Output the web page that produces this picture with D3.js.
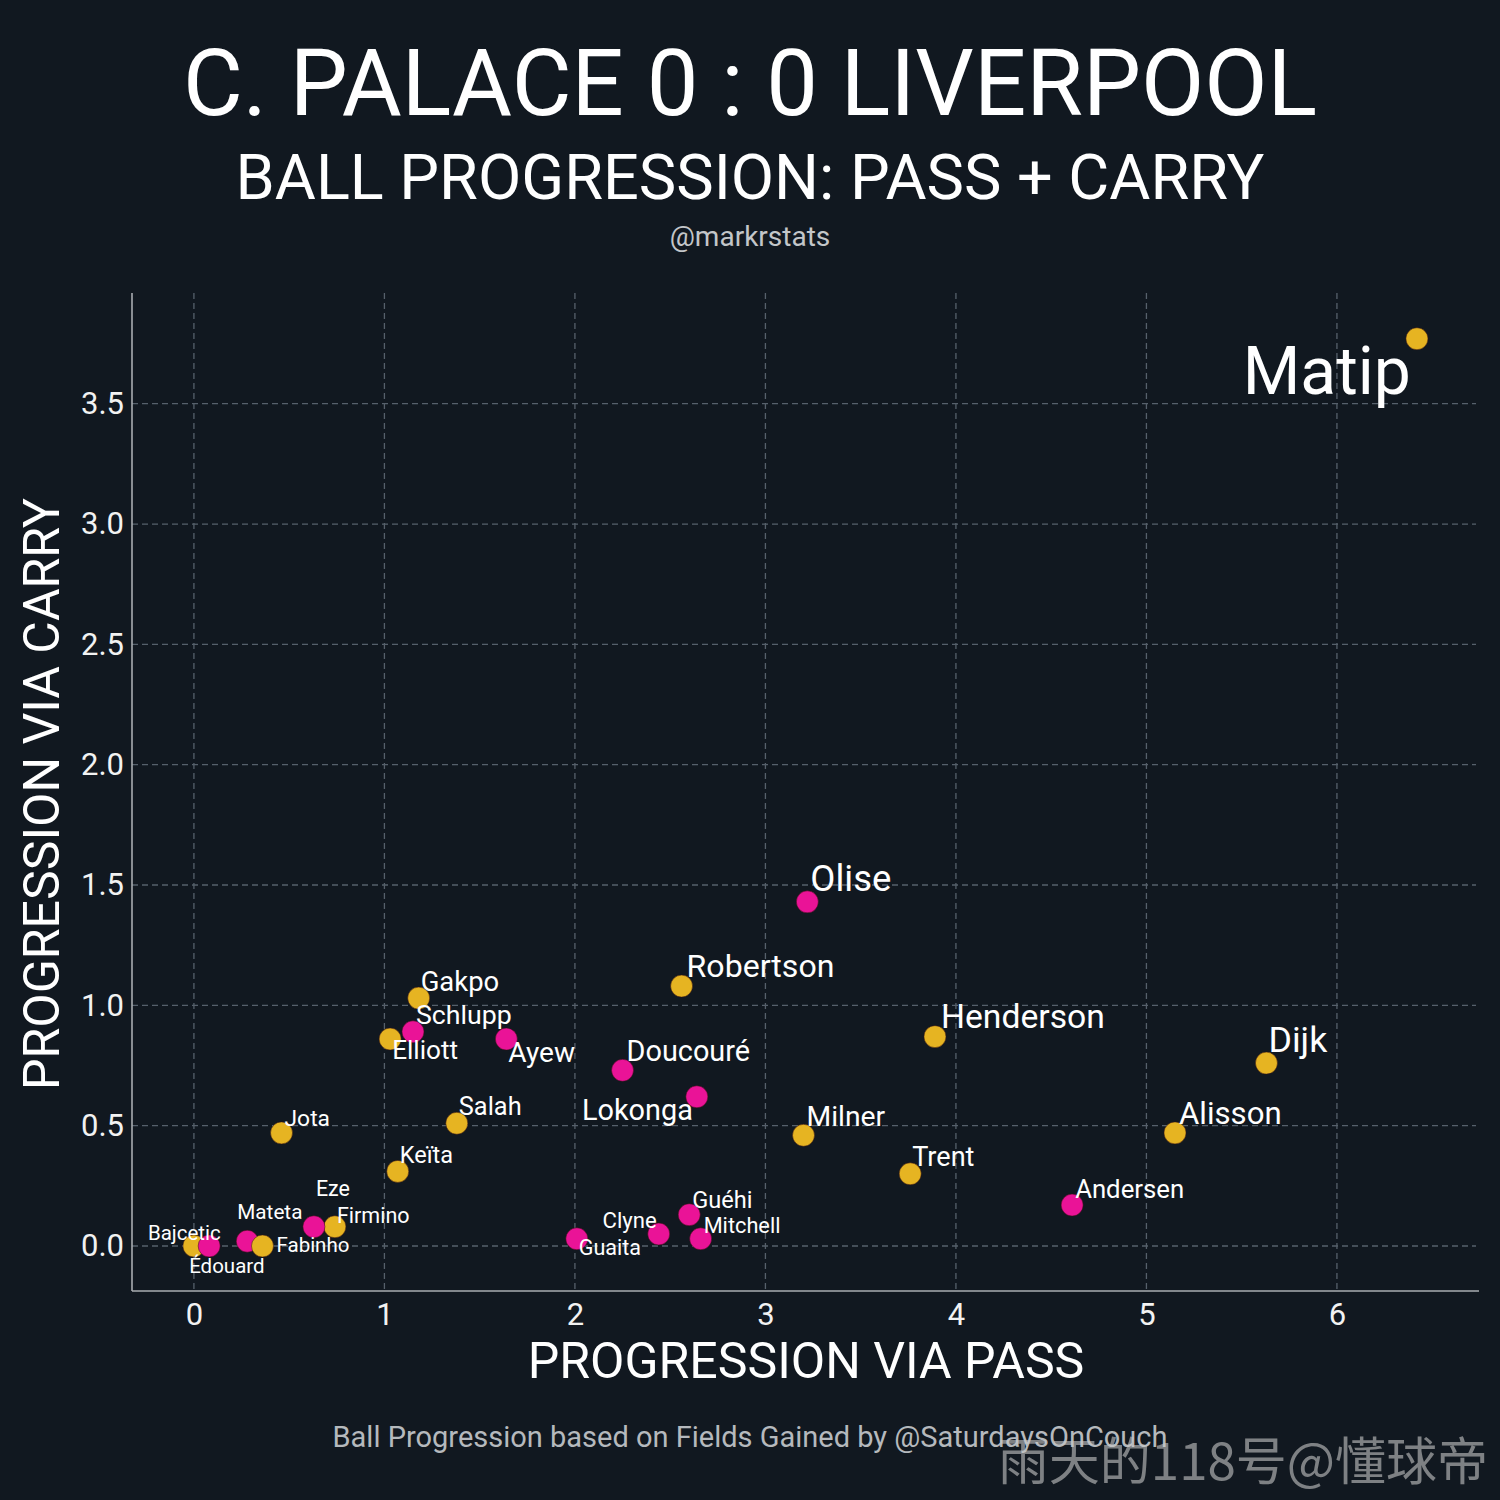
<!DOCTYPE html>
<html>
<head>
<meta charset="utf-8">
<script src="https://cdn.jsdelivr.net/npm/d3@7"></script>
<style>
  html, body { margin: 0; padding: 0; background: #111820; }
  svg { display: block; }
</style>
</head>
<body>
<svg id="chart" width="1500" height="1500"></svg>
<script>
// Players, their team and progression values.
const players = ["Matip", "Olise", "Robertson", "Henderson", "Dijk", "Alisson", "Andersen",
  "Trent", "Milner", "Doucouré", "Lokonga", "Guéhi", "Mitchell", "Clyne", "Guaita", "Ayew",
  "Gakpo", "Schlupp", "Elliott", "Salah", "Keïta", "Jota", "Eze", "Firmino", "Bajcetic",
  "Édouard", "Mateta", "Fabinho"];
const teams = ["LIV", "CRY", "LIV", "LIV", "LIV", "LIV", "CRY",
  "LIV", "LIV", "CRY", "CRY", "CRY", "CRY", "CRY", "CRY", "CRY",
  "LIV", "CRY", "LIV", "LIV", "LIV", "LIV", "CRY", "LIV", "LIV",
  "CRY", "CRY", "LIV"];
const viaPass = [6.42, 3.22, 2.56, 3.89, 5.63, 5.15, 4.61,
  3.76, 3.20, 2.25, 2.64, 2.60, 2.66, 2.44, 2.01, 1.64,
  1.18, 1.15, 1.03, 1.38, 1.07, 0.46, 0.63, 0.74, 0.00,
  0.08, 0.28, 0.36];
const viaCarry = [3.77, 1.43, 1.08, 0.87, 0.76, 0.47, 0.17,
  0.30, 0.46, 0.73, 0.62, 0.13, 0.03, 0.05, 0.03, 0.86,
  1.03, 0.89, 0.86, 0.51, 0.31, 0.47, 0.08, 0.08, 0.00,
  0.00, 0.02, 0.00];

const xTicks = [0, 1, 2, 3, 4, 5, 6];
const yTicks = [0, 0.5, 1.0, 1.5, 2.0, 2.5, 3.0, 3.5];

// Label nudges in pixels (text anchor relative to the dot), like adjustText would leave them.
const labelNudge = {
  "Matip": [-6, 55, "end"], "Olise": [3, -11], "Robertson": [5, -9], "Henderson": [6, -9],
  "Dijk": [2, -11], "Alisson": [4, -9], "Andersen": [3, -7], "Trent": [2, -8],
  "Milner": [3, -9], "Doucouré": [4, -9], "Lokonga": [-4, 23, "end"], "Guéhi": [3, -7],
  "Mitchell": [3, -6], "Clyne": [-2, -6, "end"], "Guaita": [2, 16], "Ayew": [2, 23],
  "Gakpo": [2, -7], "Schlupp": [3, -8], "Elliott": [2, 20], "Salah": [2, -8],
  "Keïta": [2, -8], "Jota": [3, -7], "Eze": [2, -31], "Firmino": [2, -4],
  "Bajcetic": [-46, -6], "Édouard": [-20, 27], "Mateta": [-10, -22], "Fabinho": [14, 6]
};

const teamColor = { LIV: "#e6b422", CRY: "#ea1397" };
const bg = "#111820";
const font = "Roboto, 'Noto Sans', sans-serif";

const svg = d3.select("#chart");
svg.append("rect").attr("width", 1500).attr("height", 1500).attr("fill", bg);

const plotLeft = 132, plotRight = 1476, plotTop = 293, plotBottom = 1291;
const x = d3.scaleLinear().domain([-0.325, 6.73]).range([plotLeft, plotRight]);
const y = d3.scaleLinear().domain([-0.187, 3.96]).range([plotBottom, plotTop]);

// Label size grows with pass x carry.
const sizeScale = d3.scalePow().exponent(0.63).domain([0, 24.2]).range([20.5, 66]);

// Grid.
svg.append("g").selectAll("line").data(xTicks).join("line")
  .attr("x1", d => x(d)).attr("x2", d => x(d))
  .attr("y1", plotTop).attr("y2", plotBottom)
  .attr("stroke", "#56606b").attr("stroke-width", 1.3).attr("stroke-dasharray", "6,4");
svg.append("g").selectAll("line").data(yTicks).join("line")
  .attr("x1", plotLeft).attr("x2", plotRight)
  .attr("y1", d => y(d)).attr("y2", d => y(d))
  .attr("stroke", "#56606b").attr("stroke-width", 1.3).attr("stroke-dasharray", "6,4");

// Axes (labels only, spines drawn separately).
const xAxis = svg.append("g").attr("transform", `translate(0,${plotBottom})`)
  .call(d3.axisBottom(x).tickValues(xTicks).tickFormat(d3.format("d")).tickSize(0).tickPadding(5));
const yAxis = svg.append("g").attr("transform", `translate(${plotLeft},0)`)
  .call(d3.axisLeft(y).tickValues(yTicks).tickFormat(d3.format(".1f")).tickSize(0).tickPadding(8));
[xAxis, yAxis].forEach(a => {
  a.select(".domain").remove();
  a.selectAll("text").attr("fill", "#f2f2f2").attr("font-family", font).attr("font-size", 31);
});
xAxis.selectAll("text").attr("dy", "0.92em");

svg.append("line").attr("x1", plotLeft).attr("x2", plotLeft).attr("y1", plotTop).attr("y2", plotBottom)
  .attr("stroke", "#a9adb1").attr("stroke-width", 1.6);
svg.append("line").attr("x1", plotLeft).attr("x2", 1479).attr("y1", plotBottom).attr("y2", plotBottom)
  .attr("stroke", "#a9adb1").attr("stroke-width", 1.6);

// Points, drawn in the reference's stacking order.
const drawOrder = ["Bajcetic", "Édouard", "Mateta", "Fabinho", "Firmino", "Eze"];
const rows = players.map((p, i) => ({ name: p, team: teams[i], px: viaPass[i], cy: viaCarry[i] }));
rows.sort((a, b) => drawOrder.indexOf(a.name) - drawOrder.indexOf(b.name));

svg.append("g").selectAll("circle").data(rows).join("circle")
  .attr("cx", d => x(d.px)).attr("cy", d => y(d.cy)).attr("r", 11)
  .attr("fill", d => teamColor[d.team])
  .attr("stroke", "#3a1010").attr("stroke-opacity", 0.5).attr("stroke-width", 1);

svg.append("g").selectAll("text").data(rows).join("text")
  .attr("x", d => x(d.px) + labelNudge[d.name][0])
  .attr("y", d => y(d.cy) + labelNudge[d.name][1])
  .attr("text-anchor", d => labelNudge[d.name][2] || "start")
  .attr("font-family", font)
  .attr("font-size", d => sizeScale(d.px * d.cy))
  .attr("fill", "#ffffff")
  .text(d => d.name);

// Titles.
const title = (txt, ty, size, color) => svg.append("text")
  .attr("x", 750).attr("y", ty).attr("text-anchor", "middle")
  .attr("font-family", font).attr("font-size", size).attr("fill", color).text(txt);
title("C. PALACE 0 : 0 LIVERPOOL", 115, 92, "#ffffff");
title("BALL PROGRESSION: PASS + CARRY", 199, 63, "#ffffff");
title("@markrstats", 246, 28, "#c3c6c9");
title("Ball Progression based on Fields Gained by @SaturdaysOnCouch", 1447, 29, "#b5b9bd");

// Axis titles.
svg.append("text").attr("x", 806).attr("y", 1378).attr("text-anchor", "middle")
  .attr("font-family", font).attr("font-size", 50).attr("fill", "#ffffff")
  .text("PROGRESSION VIA PASS");
svg.append("text").attr("transform", "translate(59,794) rotate(-90)").attr("text-anchor", "middle")
  .attr("font-family", font).attr("font-size", 50).attr("fill", "#ffffff")
  .text("PROGRESSION VIA CARRY");

// Watermark.
svg.append("text").attr("x", 1488).attr("y", 1480).attr("text-anchor", "end")
  .attr("font-family", "'Noto Sans CJK SC', sans-serif").attr("font-size", 51)
  .attr("fill", "#c8c8c8").attr("fill-opacity", 0.6)
  .text("雨天的118号@懂球帝");
</script>
</body>
</html>
